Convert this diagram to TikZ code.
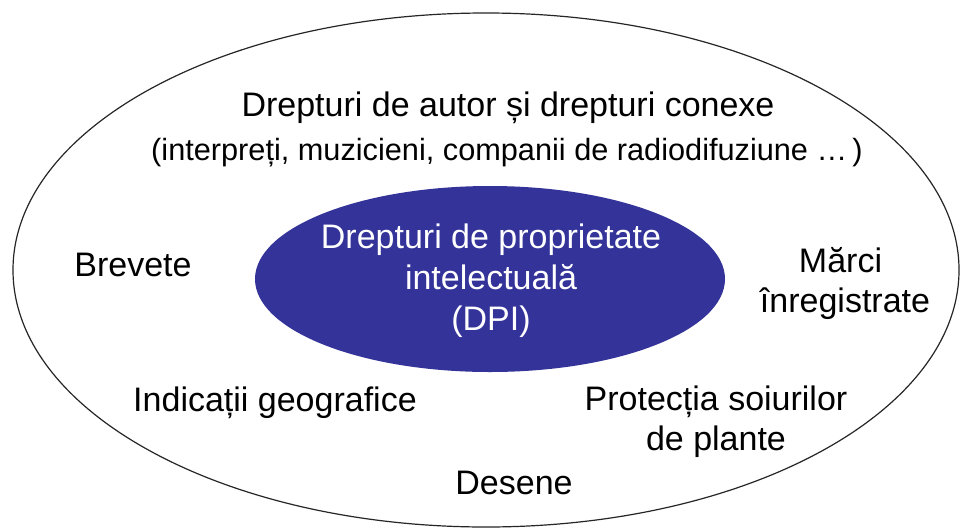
\documentclass[tikz,border=0pt]{standalone}
\usepackage{fontspec}
\setmainfont{Liberation Sans}
\definecolor{dpiblue}{RGB}{51,51,153}
\begin{document}
\begin{tikzpicture}[x=1pt,y=-1pt,
  lbl/.style={font=\fontsize{34}{40}\selectfont, align=center, inner sep=0pt, text=black},
  sub/.style={font=\fontsize{30.7}{36}\selectfont, align=center, inner sep=0pt},
  inner/.style={font=\fontsize{34}{41}\selectfont, align=center, inner sep=0pt, text=white}]
\useasboundingbox (0,0) rectangle (960,530);
\fill[white] (0,0) rectangle (960,530);
\draw[line width=1.2pt, black!85] (486,270) ellipse [x radius=473, y radius=257];
\fill[dpiblue] (490,279) ellipse [x radius=235, y radius=93];
\node[lbl] (autor) at (508,108) {Drepturi de autor și drepturi conexe};
\node[sub] (conexe) at (507,153) {(interpreți, muzicieni, companii de radiodifuziune \dots\,)};
\node[inner] (dpi) at (491,281) {Drepturi de proprietate\\intelectuală\\(DPI)};
\node[lbl] (brevete) at (133,265) {Brevete};
\node[lbl] (marci) at (845,283) {Mărci\rule{9pt}{0pt}\\înregistrate};
\node[lbl] (indicatii) at (275,403) {Indicații geografice};
\node[lbl] (soiuri) at (716,422) {Protecția soiurilor\\de plante};
\node[lbl] (desene) at (514,483) {Desene};
\end{tikzpicture}
\end{document}
